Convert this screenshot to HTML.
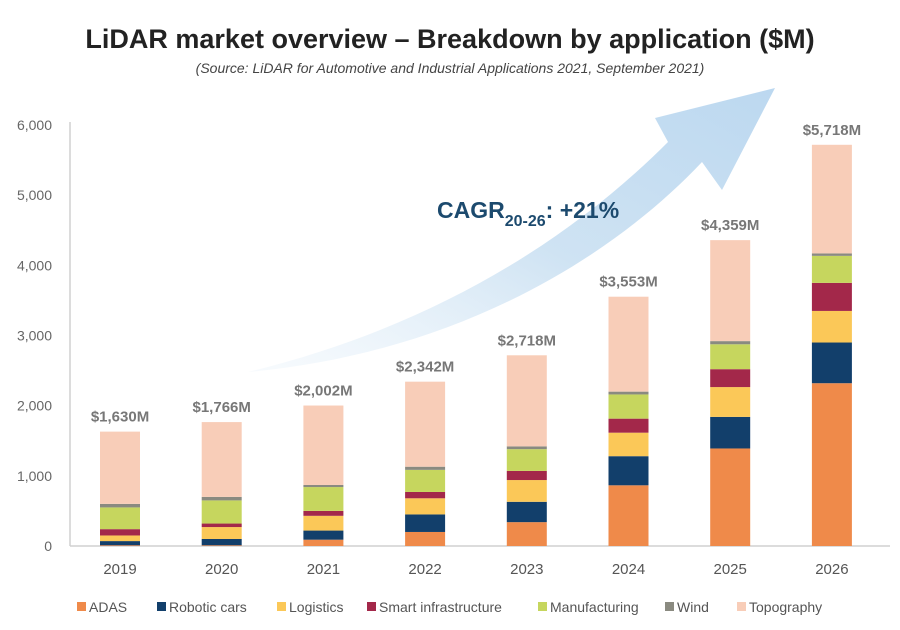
<!DOCTYPE html>
<html><head><meta charset="utf-8"><style>
html,body{margin:0;padding:0;background:#fff;width:900px;height:630px;overflow:hidden}
svg text{font-family:"Liberation Sans",sans-serif}
</style></head><body>
<svg width="900" height="630" viewBox="0 0 900 630">
<defs><linearGradient id="ag" x1="0" y1="1" x2="1" y2="0">
<stop offset="0" stop-color="#e6f1fa" stop-opacity="0.3"/><stop offset="0.5" stop-color="#cfe3f3"/><stop offset="1" stop-color="#bcd8f0"/></linearGradient></defs>
<text x="450" y="48" text-anchor="middle" font-size="27" font-weight="bold" fill="#222">LiDAR market overview – Breakdown by application ($M)</text>
<text x="450" y="73" text-anchor="middle" font-size="14" font-style="italic" fill="#444">(Source: LiDAR for Automotive and Industrial Applications 2021, September 2021)</text>
<path d="M248,372 C420,330 560,250 668,142 L655,118 L775,88 L722,190 L702,162 C600,270 440,355 248,372 Z" fill="url(#ag)"/>
<text x="437" y="218" font-size="23" font-weight="bold" fill="#1c4a6e">CAGR<tspan font-size="16" dy="8">20-26</tspan><tspan dy="-8">: +21%</tspan></text>
<line x1="70" y1="122" x2="70" y2="546" stroke="#d0d0d0" stroke-width="1.5"/>
<line x1="70" y1="546" x2="890" y2="546" stroke="#d0d0d0" stroke-width="1.5"/>
<g id="ticks"></g><g id="bars"></g><g id="legend"></g>
</svg>
<script>
const years=["2019","2020","2021","2022","2023","2024","2025","2026"];
const totals=["$1,630M","$1,766M","$2,002M","$2,342M","$2,718M","$3,553M","$4,359M","$5,718M"];
const adas=[10,10,90,200,340,865,1390,2320];
const robotic=[60,90,130,250,290,415,450,580];
const logistics=[80,170,210,230,310,335,425,450];
const smart=[90,50,70,90,130,200,255,400];
const manufacturing=[310,330,340,315,310,345,355,385];
const wind=[50,50,30,45,40,40,45,35];
const topography=[1030,1066,1132,1212,1298,1353,1439,1548];
const yTicks=[0,1000,2000,3000,4000,5000,6000];
const yTickLabels=["0","1,000","2,000","3,000","4,000","5,000","6,000"];
const seriesNames=["ADAS","Robotic cars","Logistics","Smart infrastructure","Manufacturing","Wind","Topography"];
const series=[adas,robotic,logistics,smart,manufacturing,wind,topography];
const colors=["#ef8a4a","#123f6b","#fbc858","#a3284a","#c6d65e","#8a8a80","#f8cdb8"];
const NS="http://www.w3.org/2000/svg";
const y=v=>546-v*(421/6000);
const x=i=>120+i*101.7;
function mk(t,a,p){const e=document.createElementNS(NS,t);for(const k in a)e.setAttribute(k,a[k]);p.appendChild(e);return e;}
const tg=document.getElementById('ticks');
yTicks.forEach((v,i)=>{const t=mk('text',{x:52,y:y(v)+5,'text-anchor':'end','font-size':14,fill:'#666'},tg);t.textContent=yTickLabels[i];

});
const bg=document.getElementById('bars');
years.forEach((yr,i)=>{let acc=0;
series.forEach((s,k)=>{const r=mk('rect',{x:x(i)-20,y:y(acc+s[i]),width:40,height:y(acc)-y(acc+s[i]),fill:colors[k]},bg);


acc+=s[i];});
const tl=mk('text',{x:x(i),y:y(acc)-10,'text-anchor':'middle','font-size':15,'font-weight':'bold',fill:'#777'},bg);tl.textContent=totals[i];


const xl=mk('text',{x:x(i),y:574,'text-anchor':'middle','font-size':15,fill:'#555'},bg);xl.textContent=yr;

});
const lg=document.getElementById('legend');
const lx=[77,157,277,367,538,665,737];
seriesNames.forEach((n,k)=>{const r=mk('rect',{x:lx[k],y:602,width:9,height:9,fill:colors[k]},lg);


const t=mk('text',{x:lx[k]+12,y:612,'font-size':14,fill:'#555'},lg);t.textContent=n;

});
</script>
</body></html>
